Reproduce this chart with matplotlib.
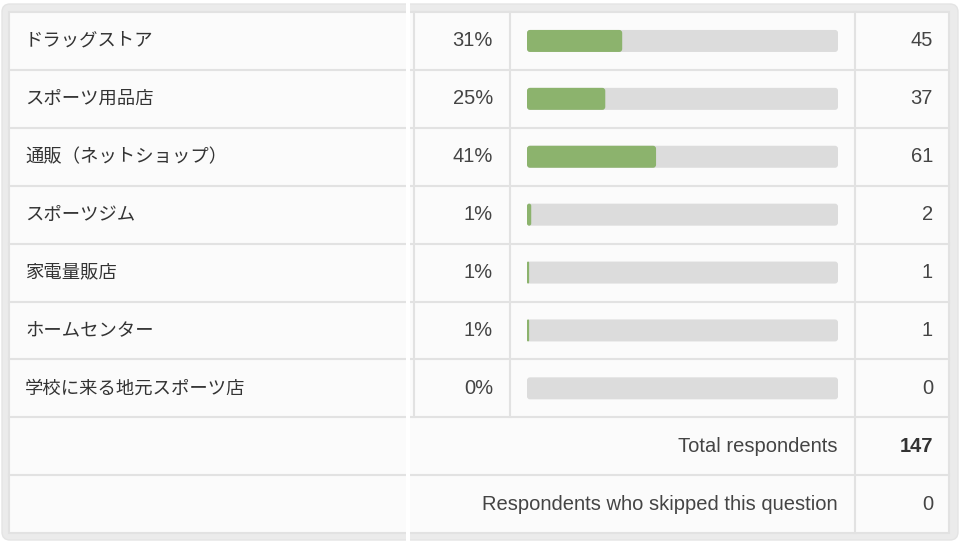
import matplotlib.pyplot as plt
from matplotlib.patches import FancyBboxPatch, Rectangle

# ----------------------------
# Data
# ----------------------------
labels = [
    "ドラッグストア",
    "スポーツ用品店",
    "通販（ネットショップ）",
    "スポーツジム",
    "家電量販店",
    "ホームセンター",
    "学校に来る地元スポーツ店",
]
percents = ["31%", "25%", "41%", "1%", "1%", "1%", "0%"]
counts = [45, 37, 61, 2, 1, 1, 0]
total_respondents = 147
skipped = 0

# ----------------------------
# Layout (pixels)
# ----------------------------
W, H = 962, 545
left, right = 9, 949
top, row_h = 12, 57.9
gap_x = (406, 410)
col_pct, col_bar, col_cnt = 414, 510, 855
bar_x0, bar_x1, bar_h = 527, 838, 22
line_c = "#e2e2e2"
n_rows = len(labels) + 2
bottom = top + row_h * n_rows
fs_num = 14.5
fs_jp = 13.2

fig = plt.figure(figsize=(W / 100, H / 100), dpi=100)
ax = fig.add_axes([0, 0, 1, 1])
ax.set_xlim(0, W)
ax.set_ylim(H, 0)
ax.axis("off")
fig.patch.set_facecolor("white")

jp_font = ["Noto Sans CJK JP", "DejaVu Sans"]
num_font = ["Liberation Sans", "DejaVu Sans"]

# outer panel + inner table
ax.add_patch(FancyBboxPatch((2, 4), W - 6, H - 9, boxstyle="round,pad=0,rounding_size=8",
                            facecolor="#ebebeb", edgecolor="#e4e4e4", lw=1))
ax.add_patch(Rectangle((left, top), right - left, bottom - top,
                       facecolor="#fbfbfb", edgecolor=line_c, lw=1.5))

# horizontal lines
for i in range(1, n_rows):
    y = top + row_h * i
    ax.plot([left, right], [y, y], color=line_c, lw=1.5)

# vertical lines
y_data_end = top + row_h * len(labels)
for x in (col_pct, col_bar):
    ax.plot([x, x], [top, y_data_end], color=line_c, lw=1.5)
ax.plot([col_cnt, col_cnt], [top, bottom], color=line_c, lw=1.5)

# rows
for i, (lab, pct, cnt) in enumerate(zip(labels, percents, counts)):
    yc = top + row_h * (i + 0.5)
    ax.text(25, yc, lab, ha="left", va="center", fontsize=fs_jp,
            family=jp_font, color="#333333")
    ax.text(493, yc, pct, ha="right", va="center", fontsize=fs_num,
            family=num_font, color="#444444")
    ax.text(933, yc, str(cnt), ha="right", va="center", fontsize=fs_num,
            family=num_font, color="#444444")
    ax.add_patch(FancyBboxPatch((bar_x0, yc - bar_h / 2), bar_x1 - bar_x0, bar_h,
                                boxstyle="round,pad=0,rounding_size=3",
                                facecolor="#dcdcdc", edgecolor="none"))
    w = (bar_x1 - bar_x0) * cnt / total_respondents
    if w > 0:
        ax.add_patch(FancyBboxPatch((bar_x0, yc - bar_h / 2), w, bar_h,
                                    boxstyle="round,pad=0,rounding_size=%.2f" % min(3, w / 2),
                                    facecolor="#8cb36d", edgecolor="none"))

# summary rows
yc = top + row_h * (len(labels) + 0.5)
ax.text(838, yc, "Total respondents", ha="right", va="center", fontsize=fs_num,
        family=num_font, color="#444444")
ax.text(933, yc, str(total_respondents), ha="right", va="center", fontsize=fs_num,
        family=num_font, color="#333333", fontweight="bold")
yc = top + row_h * (len(labels) + 1.5)
ax.text(838, yc, "Respondents who skipped this question", ha="right", va="center",
        fontsize=fs_num, family=num_font, color="#444444")
ax.text(933, yc, str(skipped), ha="right", va="center", fontsize=fs_num,
        family=num_font, color="#444444")

# white seam between the two stitched halves
ax.add_patch(Rectangle((gap_x[0], 0), gap_x[1] - gap_x[0], H,
                       facecolor="white", edgecolor="none", zorder=5))

fig.savefig("out.png", dpi=100)
